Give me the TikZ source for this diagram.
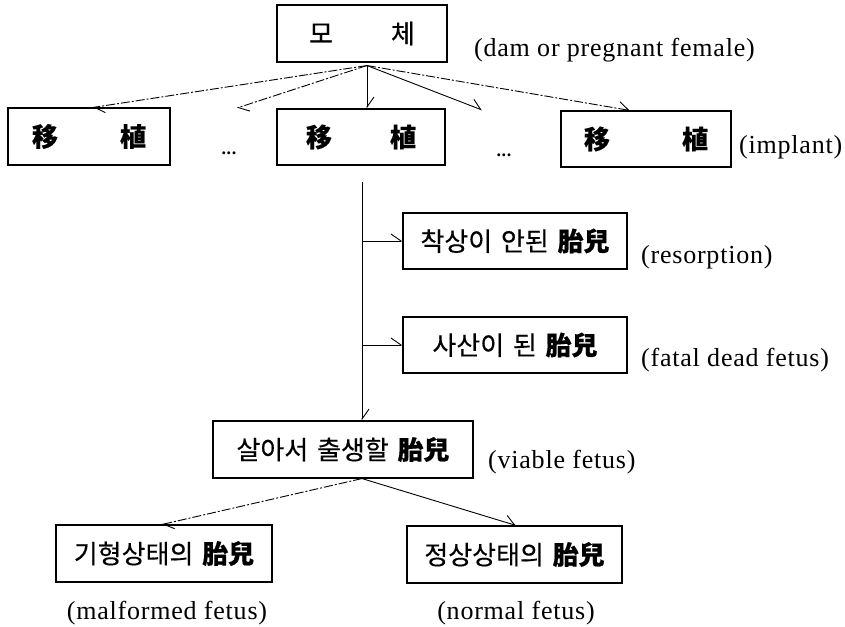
\documentclass[tikz,border=0pt]{standalone}
\usepackage{fontspec}
\setmainfont{Liberation Serif}[LetterSpace=3]
\newfontfamily\kr{Noto Sans CJK KR}[FakeBold=0.4,WordSpace=1.5]
\usetikzlibrary{arrows.meta}
\tikzset{
  box/.style={draw, line width=1.1pt, inner sep=0pt, font=\kr\fontsize{26}{30}\selectfont},
  lab/.style={inner sep=0pt, font=\fontsize{26}{30}\selectfont},
  arr/.style={line width=0.9pt, -{Straight Barb[harpoon,length=10pt,width=14pt]}},
  faded/.style={arr, dash pattern=on 9pt off 2pt on 2pt off 2pt},
  dots/.style={inner sep=0pt, font=\bfseries\fontsize{18}{20}\selectfont}
}
\begin{document}
\begin{tikzpicture}[x=1pt,y=-1pt]
\useasboundingbox[fill=white] (0,0) rectangle (845,626);
% boxes
\node[box, minimum width=170pt, minimum height=57pt] (mother) at (362,33.5) {모\hspace{58pt}체};
\node[box, minimum width=162pt, minimum height=57pt] (imp1) at (89,136.5) {\bfseries 移\hspace{62pt}植};
\node[box, minimum width=168pt, minimum height=56pt] (imp2) at (361,137) {\bfseries 移\hspace{58pt}植};
\node[box, minimum width=170pt, minimum height=56pt] (imp3) at (646,139) {\bfseries 移\hspace{72pt}植};
\node[box, minimum width=224pt, minimum height=56pt] (res) at (515,241) {착상이 안된 {\bfseries 胎兒}};
\node[box, minimum width=224pt, minimum height=56pt] (dead) at (515,345) {사산이 된 {\bfseries 胎兒}};
\node[box, minimum width=260pt, minimum height=57pt] (viable) at (343,449.5) {살아서 출생할 {\bfseries 胎兒}};
\node[box, minimum width=216pt, minimum height=57pt] (malf) at (164,553.5) {기형상태의 {\bfseries 胎兒}};
\node[box, minimum width=215pt, minimum height=57pt] (normal) at (514.5,554.5) {정상상태의 {\bfseries 胎兒}};
% labels
\node[lab, anchor=west] (ldam) at (474,50) {(dam or pregnant female)};
\node[lab, anchor=west] (limp) at (739,147) {(implant)};
\node[lab, anchor=west] (lres) at (641,257) {(resorption)};
\node[lab, anchor=west] (ldead) at (641,360) {(fatal dead fetus)};
\node[lab, anchor=west] (lvia) at (488,462) {(viable fetus)};
\node[lab] (lmal) at (167,613) {(malformed fetus)};
\node[lab] (lnor) at (516,613) {(normal fetus)};
\node[dots] (dots1) at (229,153) {...};
\node[dots] (dots2) at (504,155) {...};
% free ends
\coordinate (d1) at (237,108);
\coordinate (d2) at (482,110);
\coordinate (vtop) at (362,182);
\coordinate (b1) at (362,241);
\coordinate (b2) at (362,345);
% connectors from the dam
\draw[faded] ([xshift=5pt,yshift=-3pt]mother.south) -- ([xshift=4pt]imp1.north);
\draw[faded] ([xshift=5pt,yshift=-3pt]mother.south) -- (d1);
\draw[arr] ([xshift=5pt,yshift=-3pt]mother.south) -- ([xshift=6pt]imp2.north);
\draw[arr] ([xshift=5pt,yshift=-3pt]mother.south) -- (d2);
\draw[faded] ([xshift=5pt,yshift=-3pt]mother.south) -- ([xshift=-16pt]imp3.north);
% main stem
\draw[arr] (vtop) -- ([xshift=19pt]viable.north);
\draw[arr] (b1) -- (res.west);
\draw[arr] (b2) -- (dead.west);
% viable branches
\draw[faded] ([xshift=19pt]viable.south) -- ([xshift=-2pt]malf.north);
\draw[arr] ([xshift=19pt]viable.south) -- ([xshift=1.5pt]normal.north);
\end{tikzpicture}
\end{document}
